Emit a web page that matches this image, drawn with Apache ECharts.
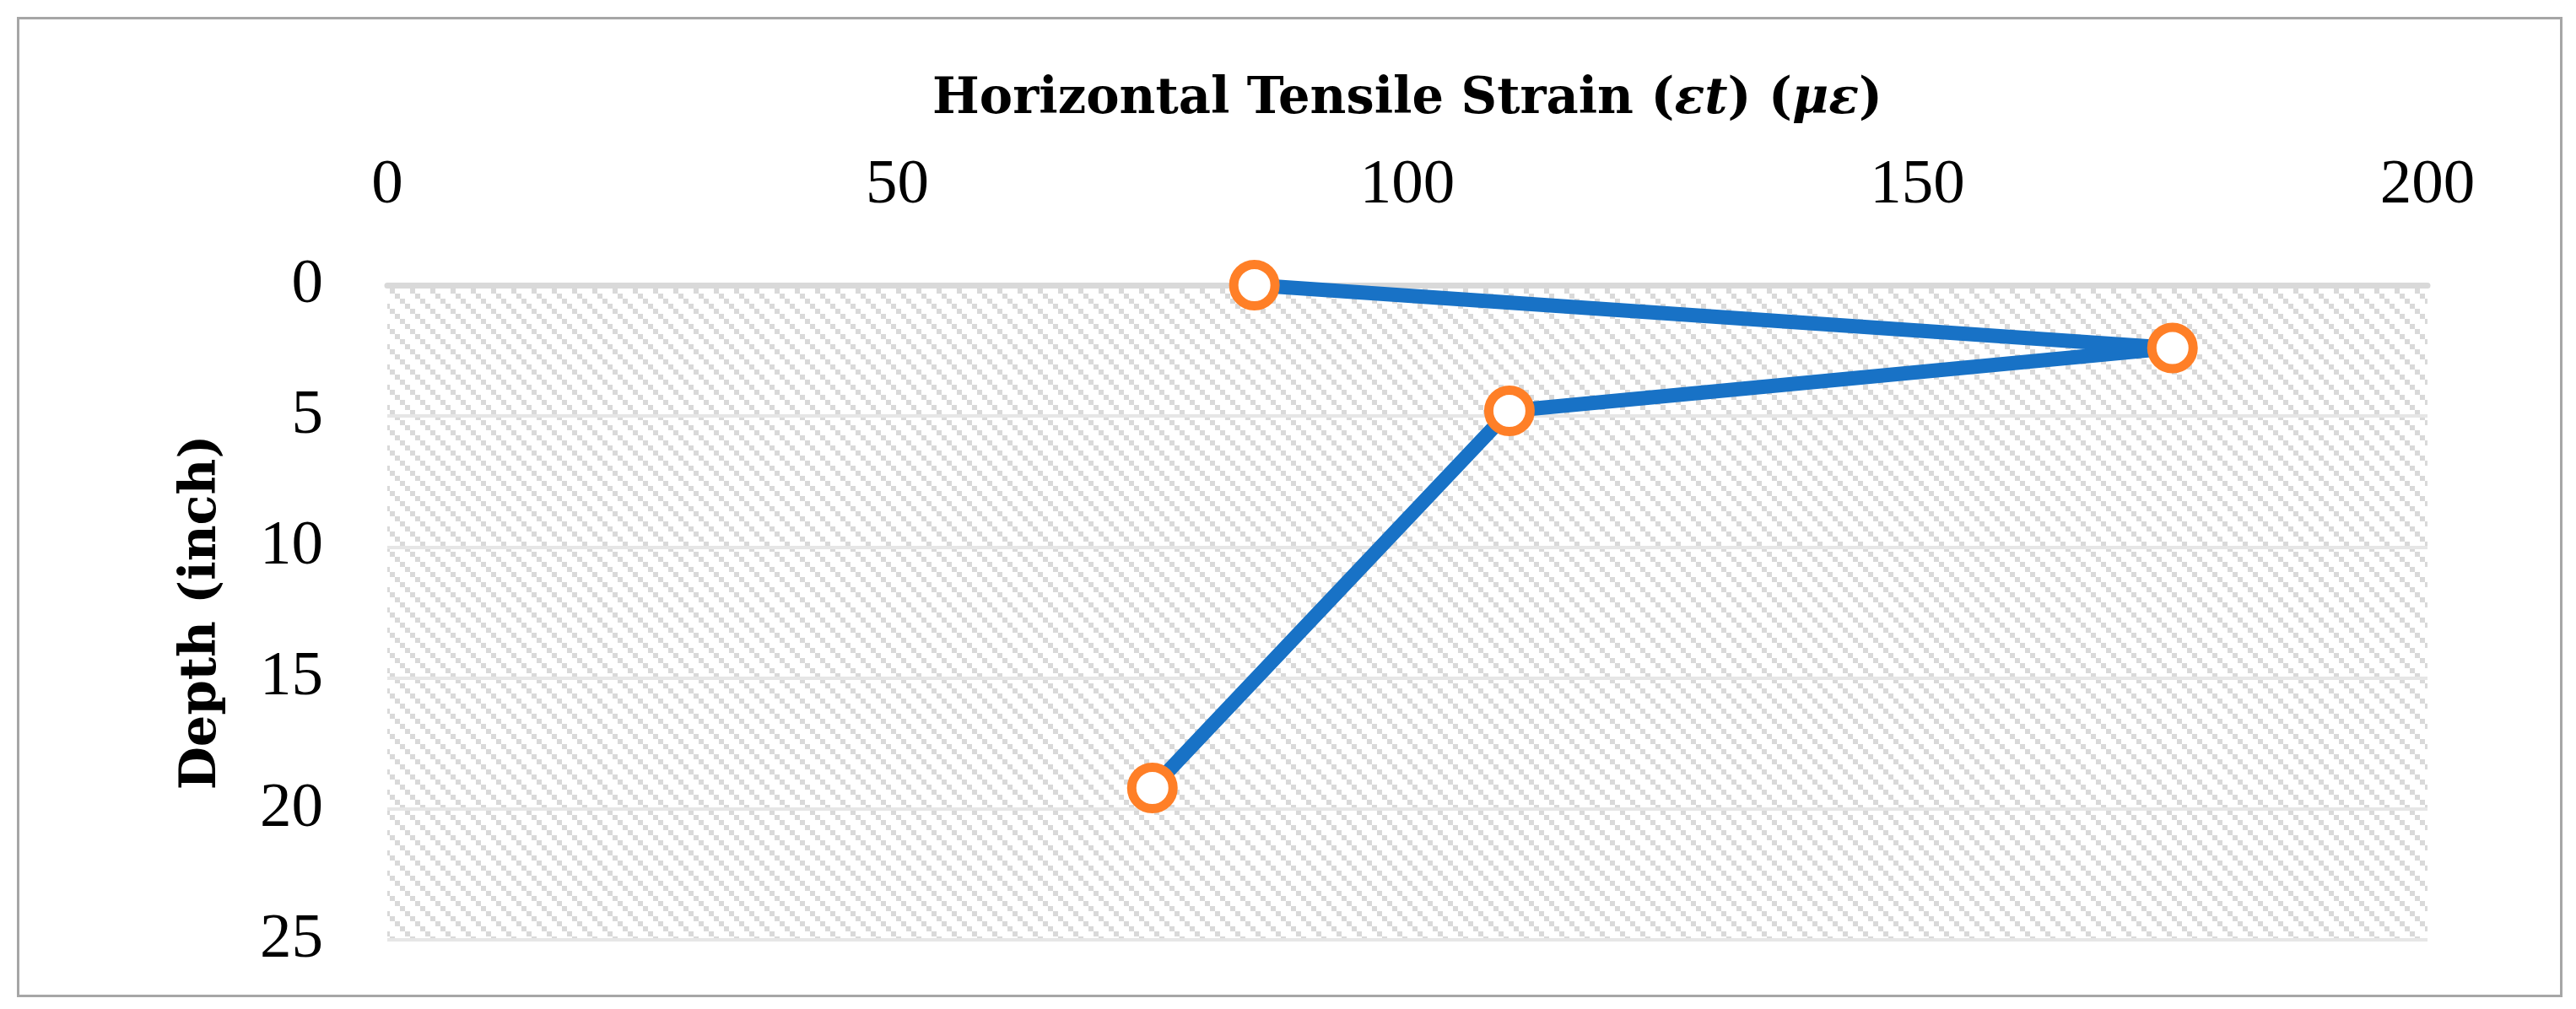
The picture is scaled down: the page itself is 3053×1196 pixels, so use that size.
<!DOCTYPE html>
<html>
<head>
<meta charset="utf-8">
<script src="https://cdn.jsdelivr.net/npm/echarts@6/dist/echarts.min.js"></script>
<style>
html,body{margin:0;padding:0;background:#fff;}
#chart{width:3053px;height:1196px;}
</style>
</head>
<body>
<div id="chart"></div>
<script>
// ---- data ----
const strain = [85, 175, 110, 75];          // horizontal tensile strain (µε)
const depth = [0, 2.4, 4.8, 19.2];          // depth (inch)
const xTicks = [0, 50, 100, 150, 200];
const yTicks = [0, 5, 10, 15, 20, 25];
const xTitle = '{b|Horizontal Tensile Strain (}{bi|εt}{b|) (}{bi|με}{b|)}';
const yTitle = 'Depth (inch)';

function makeHatch() {
  const s = 24, step = 6;
  const c = document.createElement('canvas');
  c.width = s; c.height = s;
  const g = c.getContext('2d');
  g.fillStyle = '#ffffff';
  g.fillRect(0, 0, s, s);
  g.fillStyle = '#d9d9d9';
  for (let k = 0; k < s / step; k++) {
    g.fillRect(k * step, k * step, step, step);
  }
  return c;
}

const points = strain.map((v, i) => [v, depth[i]]);
const labelFont = 'Liberation Serif';
const titleFont = 'DejaVu Serif';

const chart = echarts.init(document.getElementById('chart'), null, {renderer: 'canvas'});
chart.setOption({
  animation: false,
  backgroundColor: '#ffffff',
  graphic: [{
    type: 'rect', left: 19, top: 19, z: 100, silent: true,
    shape: {width: 3014, height: 1159},
    style: {fill: 'none', stroke: '#a6a6a6', lineWidth: 3}
  }],
  grid: {
    left: 459, right: 176, top: 338, bottom: 82,
    show: true, borderWidth: 0,
    backgroundColor: {image: makeHatch(), repeat: 'repeat'}
  },
  xAxis: {
    type: 'value', position: 'top',
    min: xTicks[0], max: xTicks[xTicks.length - 1], interval: xTicks[1] - xTicks[0],
    axisLine: {show: true, onZero: false, lineStyle: {color: '#d9d9d9', width: 7}},
    axisTick: {show: false},
    splitLine: {show: false},
    axisLabel: {fontFamily: labelFont, fontSize: 75, color: '#000', margin: 80},
    name: xTitle, nameLocation: 'middle', nameGap: 190,
    nameTextStyle: {
      rich: {
        b: {fontFamily: titleFont, fontWeight: 'bold', fontSize: 59, color: '#000'},
        bi: {fontFamily: titleFont, fontWeight: 'bold', fontStyle: 'italic', fontSize: 59, color: '#000'}
      }
    }
  },
  yAxis: {
    type: 'value', inverse: true,
    min: yTicks[0], max: yTicks[yTicks.length - 1], interval: yTicks[1] - yTicks[0],
    axisLine: {show: false},
    axisTick: {show: false},
    splitLine: {show: true, lineStyle: {color: '#e6e6e6', width: 4}},
    axisLabel: {fontFamily: labelFont, fontSize: 75, color: '#000', margin: 76},
    name: yTitle, nameLocation: 'middle', nameGap: 190, nameRotate: 90,
    nameTextStyle: {fontFamily: titleFont, fontWeight: 'bold', fontSize: 59, color: '#000'}
  },
  series: [{
    type: 'line',
    data: points,
    lineStyle: {color: '#1872c6', width: 17},
    symbol: 'circle', symbolSize: 49,
    itemStyle: {color: '#ffffff', borderColor: '#ff7f27', borderWidth: 11},
    z: 3
  }]
});
</script>
</body>
</html>
